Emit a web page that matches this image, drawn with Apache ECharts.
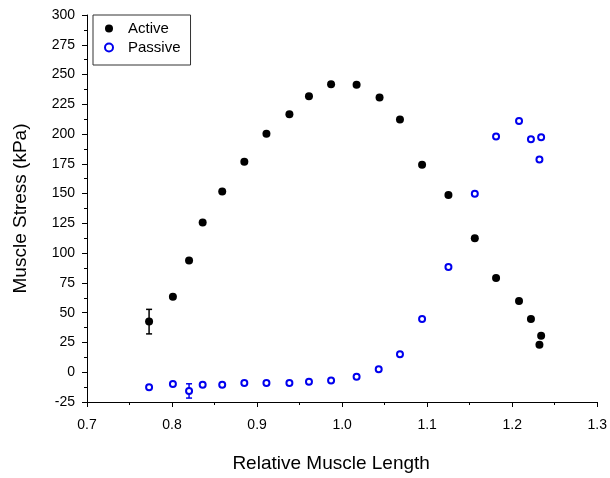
<!DOCTYPE html>
<html>
<head>
<meta charset="utf-8">
<script src="https://cdn.jsdelivr.net/npm/echarts@6/dist/echarts.min.js"></script>
<style>
    html, body { margin: 0; padding: 0; background: #fff; }
    #muscleChart { width: 610px; height: 478px; }
</style>
</head>
<body>
<div id="muscleChart"></div>
<script>

// 数据 - 相对肌肉长度
var activeLength = [0.773, 0.801, 0.820, 0.836, 0.859, 0.885, 0.911, 0.938, 0.961, 0.987, 1.017,
    1.044, 1.068, 1.094, 1.125, 1.156, 1.181, 1.208, 1.222, 1.234, 1.232];
var activeStress = [42.5, 63.3, 93.9, 125.8, 151.7, 176.7, 200.3, 216.7, 231.7, 241.9, 241.4,
    230.8, 212.3, 174.2, 148.9, 112.5, 79.2, 59.8, 44.8, 30.6, 23.1];

var passiveLength = [0.773, 0.801, 0.820, 0.836, 0.859, 0.885, 0.911, 0.938, 0.961, 0.987, 1.017,
    1.043, 1.068, 1.094, 1.125, 1.156, 1.181, 1.208, 1.222, 1.234, 1.232];
var passiveStress = [-12.7, -9.9, -15.7, -10.5, -10.5, -9, -9, -9, -7.9, -7, -3.9,
    2.5, 15, 44.8, 88.3, 149.8, 198, 211, 195.6, 197.3, 178.6];

// 误差棒
var activeErrX = [0.773];
var activeErrY = [42.5];
var activeErrSd = [10.3];
var passiveErrX = [0.820];
var passiveErrY = [-15.7];
var passiveErrSd = [6];

var seriesNames = ['Active', 'Passive'];
var xTitle = 'Relative Muscle Length';
var yTitle = 'Muscle Stress (kPa)';

var fontName = "'Liberation Sans', Arial, sans-serif";

function toPairs(xs, ys) {
    var list = [];
    for (var i = 0; i < xs.length; i++) {
        list.push([xs[i], ys[i]]);
    }
    return list;
}

function toErr(xs, ys, sd) {
    var list = [];
    for (var i = 0; i < xs.length; i++) {
        list.push([xs[i], ys[i] - sd[i], ys[i] + sd[i]]);
    }
    return list;
}

function errorBar(color) {
    return function (params, api) {
        var x = api.value(0);
        var lo = api.coord([x, api.value(1)]);
        var hi = api.coord([x, api.value(2)]);
        var half = 3;
        var st = { stroke: color, lineWidth: 1.5 };
        return {
            type: 'group',
            children: [
                { type: 'line', shape: { x1: lo[0], y1: lo[1], x2: hi[0], y2: hi[1] }, style: st },
                { type: 'line', shape: { x1: lo[0] - half, y1: lo[1], x2: lo[0] + half, y2: lo[1] }, style: st },
                { type: 'line', shape: { x1: hi[0] - half, y1: hi[1], x2: hi[0] + half, y2: hi[1] }, style: st }
            ]
        };
    };
}

var chart = echarts.init(document.getElementById('muscleChart'));

var option = {
    animation: false,
    backgroundColor: '#fff',
    textStyle: { fontFamily: fontName },
    grid: { left: 87, right: 11, top: 15, bottom: 73 },
    legend: {
        data: seriesNames,
        orient: 'vertical',
        left: 93,
        top: 15,
        padding: [6, 10, 10, 11],
        itemGap: 4,
        itemWidth: 8,
        itemHeight: 8,
        borderColor: '#333',
        borderWidth: 1,
        selectedMode: false,
        textStyle: { fontSize: 15, color: '#000', fontFamily: fontName, padding: [0, 0, 0, 10] }
    },
    xAxis: {
        type: 'value',
        min: 0.7,
        max: 1.3,
        interval: 0.1,
        name: xTitle,
        nameLocation: 'middle',
        nameGap: 52,
        nameTextStyle: { fontSize: 19, color: '#000', fontFamily: fontName, padding: [0, 22, 0, 0] },
        axisLine: { onZero: false, lineStyle: { color: '#000', width: 1 } },
        axisTick: { length: 5, lineStyle: { color: '#000' } },
        minorTick: { show: true, splitNumber: 2, length: 3, lineStyle: { color: '#000' } },
        splitLine: { show: false },
        axisLabel: {
            fontSize: 14, color: '#000', margin: 16,
            formatter: function (v) { return v.toFixed(1); }
        }
    },
    yAxis: {
        type: 'value',
        min: -25,
        max: 300,
        interval: 25,
        name: yTitle,
        nameLocation: 'middle',
        nameGap: 57,
        nameTextStyle: { fontSize: 19, color: '#000', fontFamily: fontName },
        axisLine: { show: true, onZero: false, lineStyle: { color: '#000', width: 1 } },
        axisTick: { show: true, length: 5, lineStyle: { color: '#000' } },
        minorTick: { show: true, splitNumber: 2, length: 3, lineStyle: { color: '#000' } },
        splitLine: { show: false },
        axisLabel: { fontSize: 14, color: '#000', margin: 12 }
    },
    series: [
        {
            type: 'custom',
            renderItem: errorBar('#000'),
            data: toErr(activeErrX, activeErrY, activeErrSd),
            z: 1
        },
        {
            type: 'custom',
            renderItem: errorBar('#0000ee'),
            data: toErr(passiveErrX, passiveErrY, passiveErrSd),
            z: 1
        },
        {
            name: seriesNames[0],
            type: 'scatter',
            symbol: 'circle',
            symbolSize: 8,
            itemStyle: { color: '#000', opacity: 1 },
            data: toPairs(activeLength, activeStress),
            z: 3
        },
        {
            name: seriesNames[1],
            type: 'scatter',
            symbol: 'emptyCircle',
            symbolSize: 6,
            itemStyle: { color: '#0000ee', borderColor: '#0000ee', borderWidth: 2, opacity: 1 },
            data: toPairs(passiveLength, passiveStress),
            z: 3
        }
    ]
};

chart.setOption(option);

//浏览器大小改变时重置大小
window.onresize = function () {
    chart.resize();
};

</script>
</body>
</html>
